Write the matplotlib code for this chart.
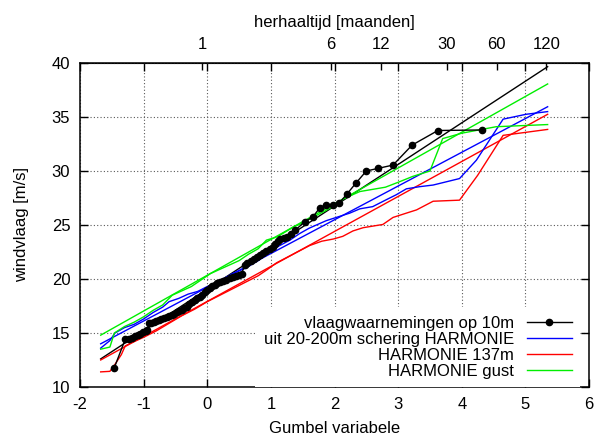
import numpy as np
import matplotlib
matplotlib.use('Agg')
import matplotlib.pyplot as plt

plt.rcParams['font.family'] = ['Liberation Sans', 'DejaVu Sans']
plt.rcParams['font.size'] = 12
plt.rcParams['axes.unicode_minus'] = False

# observed gusts (black dots)
obs_x = [-1.46, -1.29, -1.23, -1.18, -1.13, -1.09, -1.05, -1.01, -0.97, -0.94,
         -0.92, -0.88, -0.84, -0.80, -0.76, -0.72, -0.68, -0.64, -0.60, -0.56,
         -0.52, -0.48, -0.44, -0.40, -0.36, -0.32, -0.28, -0.24, -0.20, -0.16,
         -0.12, -0.08, -0.04, 0.00, 0.04, 0.08, 0.12, 0.16, 0.20, 0.25,
         0.30, 0.35, 0.40, 0.45, 0.50, 0.54, 0.59, 0.63, 0.68, 0.73,
         0.78, 0.83, 0.88, 0.93, 0.98, 1.03, 1.07, 1.11, 1.15, 1.20,
         1.25, 1.31, 1.38, 1.53, 1.66, 1.77, 1.86, 1.97, 2.07,
         2.20, 2.34, 2.50, 2.69, 2.92, 3.22, 3.625, 4.32]
obs_y = [11.8, 14.4, 14.45, 14.55, 14.7, 14.8, 14.95, 15.1, 15.2, 15.3,
         15.9, 15.95, 16.05, 16.1, 16.2, 16.3, 16.4, 16.5, 16.6, 16.7,
         16.8, 16.9, 17.0, 17.15, 17.3, 17.45, 17.65, 17.85, 18.05, 18.2,
         18.35, 18.55, 18.8, 19.0, 19.15, 19.35, 19.45, 19.6, 19.75, 19.85,
         19.95, 20.05, 20.15, 20.25, 20.35, 20.5, 21.3, 21.45, 21.65, 21.85,
         22.05, 22.25, 22.45, 22.6, 22.75, 23.0, 23.25, 23.5, 23.7, 23.8,
         23.9, 24.2, 24.5, 25.3, 25.75, 26.6, 26.85, 26.85, 27.0,
         27.9, 28.9, 30.0, 30.25, 30.55, 32.4, 33.75, 33.8]

# shear-derived HARMONIE (blue)
shear_x = [-1.675, -1.53, -1.45, -1.3, -1.15, -1.0, -0.85, -0.7, -0.6, -0.45,
           -0.3, -0.15, 0.0, 0.2, 0.4, 0.6, 0.8, 1.0, 1.14, 1.3,
           1.45, 1.6, 1.87, 2.08, 2.24, 2.4, 2.6, 2.8, 2.97, 3.13,
           3.34, 3.55, 3.965, 4.23, 4.65, 5.01, 5.35]
shear_y = [13.6, 14.3, 15.0, 15.5, 15.8, 16.3, 16.9, 17.4, 17.9, 18.2,
           18.6, 18.85, 19.3, 19.8, 20.5, 21.0, 21.7, 22.6, 23.1, 23.6,
           24.2, 24.7, 25.4, 25.8, 26.1, 26.5, 26.7, 27.3, 27.8, 28.35,
           28.55, 28.7, 29.3, 31.0, 34.8, 35.25, 35.5]

# HARMONIE 137m (red)
h137_x = [-1.675, -1.53, -1.45, -1.35, -1.29, -1.19, -1.0, -0.8, -0.6, -0.4,
          -0.2, 0.0, 0.2, 0.4, 0.6, 0.8, 0.95, 1.09, 1.35, 1.61,
          1.8, 1.98, 2.13, 2.29, 2.45, 2.76, 2.92, 3.13, 3.29, 3.55,
          3.965, 4.25, 4.65, 5.35]
h137_y = [11.4, 11.45, 12.1, 13.0, 13.8, 14.1, 14.6, 15.2, 15.9, 16.6,
          17.2, 17.9, 18.5, 19.1, 19.7, 20.3, 20.9, 21.5, 22.3, 23.1,
          23.5, 23.7, 23.95, 24.45, 24.75, 25.05, 25.7, 26.1, 26.4, 27.2,
          27.3, 29.6, 33.3, 33.85]

# HARMONIE gust (green)
gust_x = [-1.675, -1.53, -1.46, -1.3, -1.15, -1.0, -0.85, -0.7, -0.55, -0.4,
          -0.25, -0.1, 0.05, 0.2, 0.35, 0.5, 0.65, 0.8, 0.93, 1.1,
          1.35, 1.5, 1.69, 1.85, 2.06, 2.13, 2.4, 2.55, 2.8, 3.02,
          3.23, 3.5, 3.70, 4.0, 4.54, 5.35]
gust_y = [13.5, 13.7, 15.0, 15.6, 16.0, 16.5, 17.1, 17.6, 18.5, 18.9,
          19.3, 19.9, 20.5, 20.9, 21.3, 21.7, 22.3, 22.8, 23.6, 23.9,
          24.8, 25.2, 25.8, 26.3, 27.0, 27.4, 28.1, 28.25, 28.5, 29.0,
          29.5, 30.0, 33.0, 33.5, 34.1, 34.3]

# fitted Gumbel lines (end points)
fit_x = [-1.675, 5.35]
fit_obs = [12.6, 39.66]
fit_shear = [14.0, 35.95]
fit_137 = [12.5, 35.25]
fit_gust = [14.8, 38.06]

# top axis: return period in months
T_months = [1, 6, 12, 30, 60, 120]
T_pos = 1.13 * np.log(T_months) - 0.08

fig = plt.figure(figsize=(6.03, 4.38), dpi=100)
ax = fig.add_axes([80/603, 1-387/438, 509/603, 324/438])

ax.plot(fit_x, fit_obs, color='black', lw=1.0)
ax.plot(fit_x, fit_shear, color='#0000ff', lw=1.0)
ax.plot(fit_x, fit_137, color='#ff0000', lw=1.0)
ax.plot(fit_x, fit_gust, color='#00ee00', lw=1.0)

ax.plot(obs_x, obs_y, color='black', lw=1.0, marker='o', ms=4.5,
        label='vlaagwaarnemingen op 10m', zorder=5)
ax.plot(shear_x, shear_y, color='#0000ff', lw=1.0,
        label='uit 20-200m schering HARMONIE')
ax.plot(h137_x, h137_y, color='#ff0000', lw=1.0, label='HARMONIE 137m')
ax.plot(gust_x, gust_y, color='#00ee00', lw=1.0, label='HARMONIE gust')

ax.set_xlim(-2, 6)
ax.set_ylim(10, 40)
ax.set_xticks(range(-2, 7))
ax.set_yticks(range(10, 41, 5))
ax.grid(True, color='0.35', linestyle=(0, (1, 2)), lw=0.8)
ax.set_axisbelow(True)
ax.tick_params(direction='in', top=True, right=True, length=6, width=1, pad=7)
for s in ax.spines.values():
    s.set_linewidth(1.1)

ax.set_xlabel('Gumbel variabele', labelpad=7)
ax.set_ylabel('windvlaag [m/s]', labelpad=16)

top = ax.secondary_xaxis('top')
top.set_xticks(T_pos)
top.set_xticklabels([str(t) for t in T_months])
top.tick_params(direction='in', length=5, width=1, pad=8)
top.set_xlabel('herhaaltijd [maanden]', labelpad=7)

leg = ax.legend(loc='lower right', bbox_to_anchor=(0.982, 0.0),
                markerfirst=False, fancybox=False, framealpha=1,
                edgecolor='none', handlelength=2.65, handletextpad=0.8,
                labelspacing=0.06, borderpad=0.5, borderaxespad=0,
                fontsize=12)

fig.savefig('out.png', dpi=100)
